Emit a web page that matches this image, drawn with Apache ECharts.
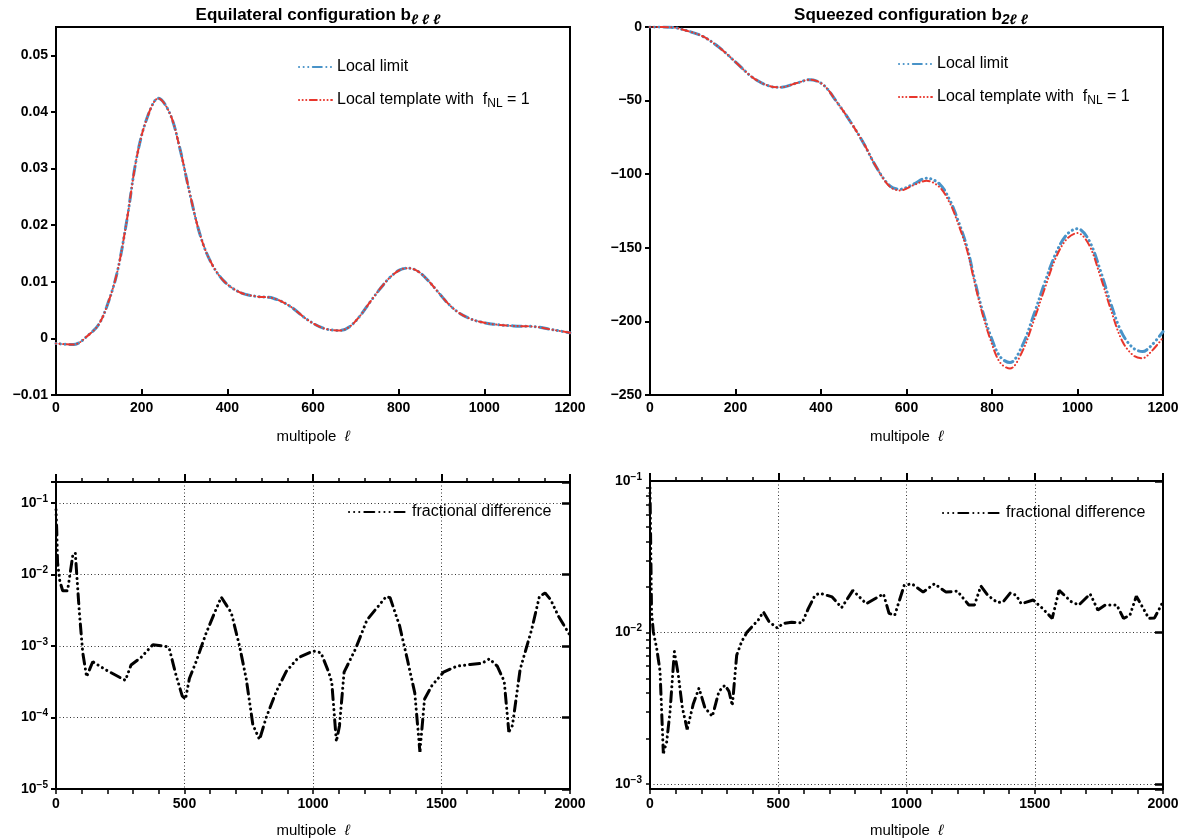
<!DOCTYPE html>
<html>
<head>
<meta charset="utf-8">
<script src="https://cdn.jsdelivr.net/npm/echarts@6/dist/echarts.min.js"></script>
<style>
html,body{margin:0;padding:0;background:#fff;}
#chart{width:1188px;height:839px;}
</style>
</head>
<body>
<div id="chart"></div>
<script>
// ---------- DATA ----------
// Equilateral configuration b_lll
const ellEq = [0, 40, 79, 100, 118, 142, 165, 188, 212, 239, 266, 289, 313, 336, 360, 391, 430, 469, 507, 546, 585, 624, 663, 686, 710, 733, 756, 780, 803, 823, 846, 869, 893, 916, 939, 963, 986, 1021, 1068, 1114, 1161, 1200];
const eqLocal = [-0.0009, -0.0011, 0.0008, 0.0025, 0.0055, 0.0114, 0.0207, 0.0318, 0.0388, 0.0424, 0.0397, 0.0336, 0.0254, 0.0184, 0.0137, 0.0102, 0.0081, 0.0074, 0.0071, 0.0057, 0.0034, 0.0018, 0.0014, 0.0021, 0.0040, 0.0064, 0.0087, 0.0108, 0.0121, 0.0124, 0.0118, 0.0102, 0.0081, 0.0061, 0.0046, 0.0036, 0.0030, 0.0025, 0.0022, 0.0021, 0.0015, 0.0010];
const eqTemplate = [-0.0009, -0.0011, 0.0008, 0.0025, 0.0055, 0.0114, 0.0207, 0.0318, 0.0388, 0.0424, 0.0397, 0.0336, 0.0254, 0.0184, 0.0137, 0.0102, 0.0081, 0.0074, 0.0071, 0.0057, 0.0034, 0.0018, 0.0014, 0.0021, 0.0040, 0.0064, 0.0087, 0.0108, 0.0121, 0.0124, 0.0118, 0.0102, 0.0081, 0.0061, 0.0046, 0.0036, 0.0030, 0.0025, 0.0022, 0.0021, 0.0015, 0.0010];

// Squeezed configuration b_2ll
const ellSq = [0, 49, 88, 125, 164, 203, 242, 281, 305, 343, 374, 405, 436, 468, 499, 530, 561, 585, 616, 647, 678, 702, 715, 741, 758, 775, 797, 819, 842, 870, 896, 923, 949, 975, 1000, 1027, 1053, 1078, 1104, 1130, 1152, 1174, 1200];
const sqLocal = [0, -0.2, -2.7, -6.6, -14.4, -24.6, -34.7, -40.3, -41, -38.1, -35.8, -39.2, -50.5, -64, -78.6, -95.5, -107.9, -110.2, -106.8, -102.7, -106.8, -118, -127, -149, -170, -190, -210, -224, -228, -217, -197, -174, -154, -141, -137, -145, -165, -188, -208, -218, -220.5, -216, -207];
const sqTemplate = [0, -0.2, -2.7, -6.6, -14.4, -24.6, -34.7, -40.3, -41, -38.1, -35.8, -39.2, -50.5, -64, -78.6, -95.5, -108.5, -111, -107.5, -104.5, -109, -120, -129, -151, -172, -192, -213, -228, -232, -221, -201, -178, -157, -144, -140, -148, -169, -192, -213, -223, -225, -220, -211];

// Fractional differences
const ellFdEq = [0, 3, 6, 15, 26, 45, 65, 75, 91, 104, 119, 143, 195, 270, 292, 331, 377, 429, 441, 467, 491, 504, 519, 545, 584, 617, 643, 682, 714, 740, 766, 792, 818, 857, 896, 942, 1001, 1031, 1061, 1073, 1091, 1103, 1121, 1165, 1210, 1285, 1300, 1337, 1367, 1396, 1416, 1434, 1463, 1508, 1560, 1612, 1657, 1687, 1717, 1744, 1762, 1776, 1806, 1851, 1881, 1903, 1925, 1955, 2000];
const fdEq = [0.08, 0.04, 0.0146, 0.008, 0.0059, 0.0059, 0.018, 0.02, 0.0029, 0.00081, 0.00037, 0.0006, 0.00046, 0.00033, 0.00054, 0.00069, 0.00104, 0.00098, 0.00091, 0.00039, 0.0002, 0.00018, 0.00035, 0.0006, 0.0015, 0.0029, 0.0048, 0.0029, 0.001, 0.00035, 0.000079, 0.000049, 0.0001, 0.00023, 0.00044, 0.00068, 0.00085, 0.0008, 0.00043, 0.00031, 0.000046, 0.000076, 0.00043, 0.0009, 0.0023, 0.0049, 0.0047, 0.0019, 0.00065, 0.00022, 0.000033, 0.00018, 0.00028, 0.00043, 0.00052, 0.00055, 0.00057, 0.00066, 0.00052, 0.00032, 0.000063, 0.000077, 0.00047, 0.0017, 0.0049, 0.0055, 0.0044, 0.0026, 0.0014];

const ellFdSq = [0, 6, 13, 26, 39, 52, 65, 78, 95, 110, 126, 145, 169, 191, 214, 243, 269, 292, 308, 321, 338, 357, 377, 403, 422, 442, 464, 497, 519, 552, 593, 617, 643, 662, 710, 747, 791, 843, 910, 932, 954, 991, 1021, 1065, 1109, 1154, 1198, 1243, 1265, 1290, 1317, 1354, 1376, 1405, 1428, 1447, 1494, 1531, 1568, 1595, 1642, 1672, 1716, 1746, 1775, 1820, 1846, 1871, 1896, 1945, 1967, 2000];
const fdSq = [0.09, 0.0137, 0.0101, 0.0079, 0.0056, 0.0016, 0.0019, 0.003, 0.0075, 0.0053, 0.0032, 0.0023, 0.0034, 0.0043, 0.0032, 0.0028, 0.0041, 0.0045, 0.0041, 0.0033, 0.0071, 0.0087, 0.01, 0.0112, 0.0121, 0.0137, 0.0118, 0.0107, 0.0115, 0.0117, 0.0116, 0.0144, 0.0176, 0.0182, 0.0172, 0.0146, 0.019, 0.0155, 0.018, 0.0134, 0.013, 0.0205, 0.021, 0.0185, 0.021, 0.0185, 0.0188, 0.0152, 0.0152, 0.0203, 0.0176, 0.0158, 0.0159, 0.0183, 0.0176, 0.0155, 0.0164, 0.0144, 0.0124, 0.019, 0.016, 0.0152, 0.018, 0.0141, 0.0152, 0.0152, 0.0124, 0.013, 0.0174, 0.0124, 0.0125, 0.016];

// Log-axis tick positions for the squeezed fractional-difference panel (decades + minor)
const sqLogTicks = [0.001, 0.002, 0.003, 0.004, 0.005, 0.006, 0.007, 0.008, 0.009, 0.01, 0.02, 0.03, 0.04, 0.05, 0.06, 0.07, 0.08, 0.09, 0.1];

// ---------- CHART ----------
const FONT = '"Liberation Sans", Arial, Helvetica, sans-serif';
const BLUE = '#4893c8';
const RED = '#e8362c';
const pairs = (xs, ys) => xs.map((x, i) => [x, ys[i]]);

const chart = echarts.init(document.getElementById('chart'), null, {renderer: 'canvas'});

const tickLabel = {color: '#000', fontFamily: FONT, fontWeight: 'bold', fontSize: 14};
const axisLineBlack = {show: true, onZero: false, lineStyle: {color: '#000', width: 2}};
const xName = {
  name: 'multipole  {i|ℓ}',
  nameLocation: 'middle',
  nameGap: 34,
  nameTextStyle: {color: '#000', fontFamily: FONT, fontSize: 15, rich: {i: {fontStyle: 'italic', fontSize: 15, fontFamily: FONT, color: '#000'}}}
};
const fmtInt = v => String(Math.round(v));
function fmtLin(digits) {
  return v => {
    const r = Math.round(v * Math.pow(10, digits)) / Math.pow(10, digits);
    if (r === 0) return '0';
    return (r < 0 ? '−' : '') + Math.abs(r).toString();
  };
}
function fmtLog(v) {
  const l = Math.log10(v);
  const e = Math.round(l);
  if (Math.abs(l - e) > 1e-3) return '';
  return '{b|10}{s|' + (e < 0 ? '−' : '') + Math.abs(e) + '}';
}
const logRich = {
  b: {fontSize: 14, fontWeight: 'bold', fontFamily: FONT, color: '#000', lineHeight: 18},
  s: {fontSize: 10, fontWeight: 'bold', fontFamily: FONT, color: '#000', lineHeight: 9, verticalAlign: 'top'}
};
const dotted = {show: true, lineStyle: {color: '#333', width: 1, type: [1, 2.5]}};
const legendHideSymbol = {color: 'transparent', borderWidth: 0, opacity: 0};
const subTitleRich = {
  t: {fontSize: 17, fontWeight: 'bold', fontFamily: FONT, color: '#000', lineHeight: 24},
  s: {fontSize: 14, fontStyle: 'italic', fontWeight: 'bold', fontFamily: FONT, color: '#000', lineHeight: 13, verticalAlign: 'bottom'}
};
const legendText = {fontSize: 16, fontFamily: FONT, color: '#000', lineHeight: 20,
  rich: {sub: {fontSize: 12, fontFamily: FONT, color: '#000', lineHeight: 9, verticalAlign: 'bottom'}}};

const option = {
  animation: false,
  backgroundColor: '#fff',
  title: [
    {text: '{t|Equilateral configuration b}{s|ℓ ℓ ℓ}', left: 313, textAlign: 'center', top: -2,
     textStyle: {rich: subTitleRich}},
    {text: '{t|Squeezed configuration b}{s|2ℓ ℓ}', left: 906, textAlign: 'center', top: -2,
     textStyle: {rich: subTitleRich}}
  ],
  legend: [
    {data: ['Local limit', 'Local template with fNL = 1'], left: 293, top: 52, orient: 'vertical',
     itemWidth: 33, itemHeight: 14, itemGap: 13, itemStyle: legendHideSymbol,
     formatter: n => n === 'Local limit' ? n : 'Local template with  f{sub|NL} = 1',
     textStyle: legendText},
    {data: ['Local limit ', 'Local template with fNL = 1 '], left: 893, top: 49, orient: 'vertical',
     itemWidth: 33, itemHeight: 14, itemGap: 13, itemStyle: legendHideSymbol,
     formatter: n => n === 'Local limit ' ? 'Local limit' : 'Local template with  f{sub|NL} = 1',
     textStyle: legendText},
    {data: ['fractional difference'], left: 343, top: 497, itemWidth: 58, itemHeight: 14, itemStyle: legendHideSymbol,
     textStyle: legendText},
    {data: ['fractional difference '], left: 937, top: 498, itemWidth: 58, itemHeight: 14, itemStyle: legendHideSymbol,
     formatter: n => 'fractional difference',
     textStyle: legendText}
  ],
  grid: [
    {left: 56, right: 618, top: 27, bottom: 444, show: true, borderColor: '#000', borderWidth: 2},
    {left: 650, right: 25, top: 27, bottom: 444, show: true, borderColor: '#000', borderWidth: 2},
    {left: 56, right: 618, top: 482, bottom: 48, show: true, borderColor: '#000', borderWidth: 2},
    {left: 650, right: 25, top: 481, bottom: 47, show: true, borderColor: '#000', borderWidth: 2}
  ],
  xAxis: [
    Object.assign({gridIndex: 0, type: 'value', min: 0, max: 1200, interval: 200, position: 'bottom',
     axisLine: axisLineBlack, axisTick: {show: true, inside: true, length: 6, lineStyle: {color: '#000', width: 2}},
     axisLabel: Object.assign({margin: 6, formatter: fmtInt}, tickLabel), splitLine: {show: false}}, xName),
    Object.assign({gridIndex: 1, type: 'value', min: 0, max: 1200, interval: 200, position: 'bottom',
     axisLine: axisLineBlack, axisTick: {show: true, inside: true, length: 6, lineStyle: {color: '#000', width: 2}},
     axisLabel: Object.assign({margin: 6, formatter: fmtInt}, tickLabel), splitLine: {show: false}}, xName),
    Object.assign({gridIndex: 2, type: 'value', min: 0, max: 2000, interval: 500, position: 'bottom',
     axisLine: axisLineBlack, axisTick: {show: true, length: 5, lineStyle: {color: '#000', width: 1.5}},
     minorTick: {show: true, splitNumber: 5, length: 5, lineStyle: {color: '#000', width: 1.5}},
     axisLabel: Object.assign({margin: 8, formatter: fmtInt}, tickLabel), splitLine: dotted}, xName),
    {gridIndex: 2, type: 'value', min: 0, max: 2000, interval: 500, position: 'top',
     axisLine: axisLineBlack, axisTick: {show: true, length: 8, lineStyle: {color: '#000', width: 2}},
     minorTick: {show: true, splitNumber: 5, length: 4, lineStyle: {color: '#000', width: 1.5}},
     axisLabel: {show: false}, splitLine: {show: false}},
    Object.assign({gridIndex: 3, type: 'value', min: 0, max: 2000, interval: 500, position: 'bottom',
     axisLine: axisLineBlack, axisTick: {show: true, length: 5, lineStyle: {color: '#000', width: 1.5}},
     minorTick: {show: true, splitNumber: 5, length: 5, lineStyle: {color: '#000', width: 1.5}},
     axisLabel: Object.assign({margin: 8, formatter: fmtInt}, tickLabel), splitLine: dotted}, xName),
    {gridIndex: 3, type: 'value', min: 0, max: 2000, interval: 500, position: 'top',
     axisLine: axisLineBlack, axisTick: {show: true, length: 8, lineStyle: {color: '#000', width: 2}},
     minorTick: {show: true, splitNumber: 5, length: 4, lineStyle: {color: '#000', width: 1.5}},
     axisLabel: {show: false}, splitLine: {show: false}}
  ],
  yAxis: [
    {gridIndex: 0, type: 'value', min: -0.01, max: 0.055, interval: 0.01,
     axisLine: axisLineBlack, axisTick: {show: true, length: 5, lineStyle: {color: '#000', width: 2}},
     axisLabel: Object.assign({margin: 8, showMaxLabel: false, formatter: fmtLin(2)}, tickLabel), splitLine: {show: false}},
    {gridIndex: 1, type: 'value', min: -250, max: 0, interval: 50,
     axisLine: axisLineBlack, axisTick: {show: true, length: 5, lineStyle: {color: '#000', width: 2}},
     axisLabel: Object.assign({margin: 8, formatter: fmtLin(0)}, tickLabel), splitLine: {show: false}},
    {gridIndex: 2, type: 'log', logBase: 10, min: 1e-5, max: 0.195,
     axisLine: axisLineBlack, axisTick: {show: true, length: 5, lineStyle: {color: '#000', width: 2}},
     axisLabel: {margin: 8, formatter: fmtLog, rich: logRich}, splitLine: dotted},
    {gridIndex: 2, type: 'log', logBase: 10, min: 1e-5, max: 0.195, position: 'right',
     axisLine: axisLineBlack, axisTick: {show: true, inside: true, length: 8, lineStyle: {color: '#000', width: 2.5}},
     axisLabel: {show: false}, splitLine: {show: false}},
    {gridIndex: 3, type: 'log', logBase: 10, min: 0.00093, max: 0.1,
     axisLine: axisLineBlack, axisTick: {show: true, length: 4, customValues: sqLogTicks, lineStyle: {color: '#000', width: 1.5}},
     axisLabel: {margin: 8, formatter: fmtLog, rich: logRich}, splitLine: {show: false}},
    {gridIndex: 3, type: 'log', logBase: 10, min: 0.00093, max: 0.1, position: 'right',
     axisLine: axisLineBlack, axisTick: {show: true, inside: true, length: 8, lineStyle: {color: '#000', width: 2.5}},
     axisLabel: {show: false}, splitLine: dotted}
  ],
  series: [
    {name: 'Local limit', type: 'line', xAxisIndex: 0, yAxisIndex: 0, data: pairs(ellEq, eqLocal),
     smooth: 0.35, symbol: 'none', color: BLUE,
     lineStyle: {color: BLUE, width: 3, type: [0.1, 4.5, 0.1, 4.5, 0.1, 4.5, 9, 4.5], cap: 'round'}},
    {name: 'Local template with fNL = 1', type: 'line', xAxisIndex: 0, yAxisIndex: 0, data: pairs(ellEq, eqTemplate),
     smooth: 0.35, symbol: 'none', color: RED,
     lineStyle: {color: RED, width: 2, type: [0.1, 3.5, 0.1, 3.5, 0.1, 3.5, 7, 3.5], cap: 'round'}},
    {name: 'Local limit ', type: 'line', xAxisIndex: 1, yAxisIndex: 1, data: pairs(ellSq, sqLocal),
     smooth: 0.35, symbol: 'none', color: BLUE,
     lineStyle: {color: BLUE, width: 3, type: [0.1, 4.5, 0.1, 4.5, 0.1, 4.5, 9, 4.5], cap: 'round'}},
    {name: 'Local template with fNL = 1 ', type: 'line', xAxisIndex: 1, yAxisIndex: 1, data: pairs(ellSq, sqTemplate),
     smooth: 0.35, symbol: 'none', color: RED,
     lineStyle: {color: RED, width: 2, type: [0.1, 3.5, 0.1, 3.5, 0.1, 3.5, 7, 3.5], cap: 'round'}},
    {name: 'fractional difference', type: 'line', xAxisIndex: 2, yAxisIndex: 2, data: pairs(ellFdEq, fdEq),
     symbol: 'none', color: '#000',
     lineStyle: {color: '#000', width: 3, type: [0.1, 5, 0.1, 5, 0.1, 5, 10, 5], cap: 'round'}},
    {name: 'fractional difference ', type: 'line', xAxisIndex: 4, yAxisIndex: 4, data: pairs(ellFdSq, fdSq),
     symbol: 'none', color: '#000',
     lineStyle: {color: '#000', width: 3, type: [0.1, 5, 0.1, 5, 0.1, 5, 10, 5], cap: 'round'}}
  ]
};
chart.setOption(option);
</script>
</body>
</html>
